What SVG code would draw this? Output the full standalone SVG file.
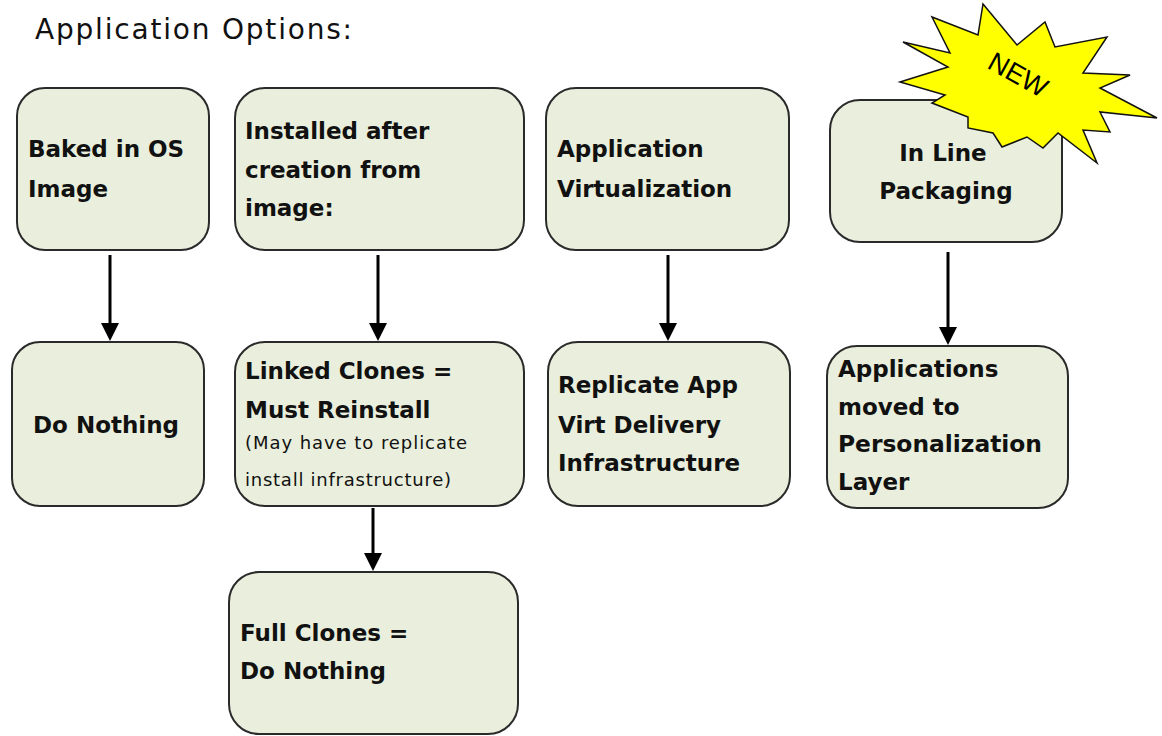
<svg xmlns="http://www.w3.org/2000/svg" width="1162" height="736" viewBox="0 0 1162 736">
<style>
.box{fill:#E9EFDC;stroke:#2a2a2a;stroke-width:2}
.t{font-family:"DejaVu Sans",Verdana,sans-serif;font-weight:bold;font-size:23px;fill:#111}
.s{font-family:"DejaVu Sans",Verdana,sans-serif;font-size:18px;fill:#111}
.title{font-family:"DejaVu Sans",Verdana,sans-serif;font-size:28px;fill:#111}
.conn{stroke:#000;stroke-width:3;fill:none;marker-end:url(#ah)}
</style>
<defs>
<marker id="ah" viewBox="0 0 18 18" refX="0" refY="9" markerWidth="18" markerHeight="18" markerUnits="userSpaceOnUse" orient="auto">
<path d="M0,0 L18,9 L0,18 z" fill="#000"/>
</marker>
</defs>
<rect width="1162" height="736" fill="#fff"/>
<text class="title" x="35" y="39" textLength="317" lengthAdjust="spacing">Application Options:</text>

<g id="connectors">
<line class="conn" x1="110" y1="255" x2="110" y2="323"/>
<line class="conn" x1="378" y1="255" x2="378" y2="323"/>
<line class="conn" x1="668" y1="255" x2="668" y2="323"/>
<line class="conn" x1="948" y1="252" x2="948" y2="327"/>
<line class="conn" x1="373" y1="508" x2="373" y2="553"/>
</g>

<g id="baked">
<rect class="box" x="17" y="88" width="192" height="162" rx="28"/>
<text class="t" x="28" y="157">Baked in OS</text>
<text class="t" x="28" y="197">Image</text>
</g>
<g id="installed">
<rect class="box" x="235" y="88" width="289" height="162" rx="30"/>
<text class="t" x="245" y="139">Installed after</text>
<text class="t" x="245" y="178">creation from</text>
<text class="t" x="245" y="216">image:</text>
</g>
<g id="appvirt">
<rect class="box" x="546" y="88" width="243" height="162" rx="30"/>
<text class="t" x="557" y="157">Application</text>
<text class="t" x="557" y="197">Virtualization</text>
</g>
<g id="inline">
<rect class="box" x="830" y="100" width="232" height="142" rx="30"/>
<text class="t" x="943" y="161" text-anchor="middle">In Line</text>
<text class="t" x="946" y="199" text-anchor="middle">Packaging</text>
</g>
<g id="new-badge">
<polygon points="983,4 1017,45 1045,22 1055,47 1107,37 1083,73 1130,75 1100,88 1157,118 1100,112 1110,132 1083,130 1097,163 1058,133 1043,148 1027,137 1002,147 993,133 968,128 968,117 932,103 945,95 900,82 948,67 903,42 950,53 932,17 978,35" fill="#FFFF00" stroke="#111" stroke-width="1.5" stroke-linejoin="miter"/>
<text x="1018" y="84" text-anchor="middle" transform="rotate(29 1018 75)" font-family="'Liberation Sans',Arial,sans-serif" font-size="27" fill="#000">NEW</text>
</g>

<g id="donothing">
<rect class="box" x="12" y="342" width="192" height="164" rx="28"/>
<text class="t" x="33" y="433">Do Nothing</text>
</g>
<g id="linked">
<rect class="box" x="235" y="342" width="289" height="164" rx="30"/>
<text class="t" x="245" y="379">Linked Clones =</text>
<text class="t" x="245" y="418">Must Reinstall</text>
<text class="s" x="245" y="449" textLength="222" lengthAdjust="spacing">(May have to replicate</text>
<text class="s" x="245" y="486" textLength="206" lengthAdjust="spacing">install infrastructure)</text>
</g>
<g id="replicate">
<rect class="box" x="548" y="342" width="242" height="164" rx="30"/>
<text class="t" x="558" y="393">Replicate App</text>
<text class="t" x="558" y="433">Virt Delivery</text>
<text class="t" x="558" y="471">Infrastructure</text>
</g>
<g id="moved">
<rect class="box" x="827" y="346" width="241" height="162" rx="30"/>
<text class="t" x="838" y="377">Applications</text>
<text class="t" x="838" y="415">moved to</text>
<text class="t" x="838" y="452" textLength="204" lengthAdjust="spacingAndGlyphs">Personalization</text>
<text class="t" x="838" y="490">Layer</text>
</g>
<g id="fullclones">
<rect class="box" x="229" y="572" width="289" height="162" rx="30"/>
<text class="t" x="240" y="641">Full Clones =</text>
<text class="t" x="240" y="679">Do Nothing</text>
</g>
</svg>
